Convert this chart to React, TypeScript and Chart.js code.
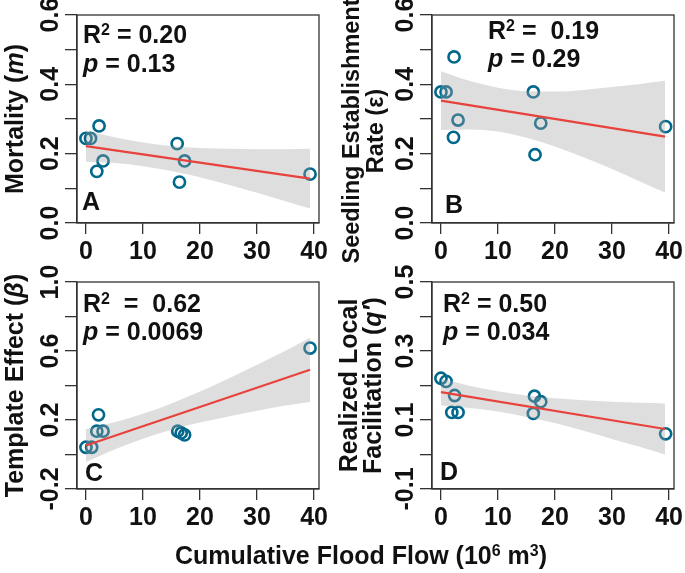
import React, { useEffect, useRef } from 'react';
import { Chart, registerables } from 'chart.js';

Chart.register(...registerables);

const W = 685;
const H = 573;
const FAMILY = '"Liberation Sans", Arial, Helvetica, sans-serif';

// ---------------- data ----------------
const xTickValues = [0, 10, 20, 30, 40];
const xTickLabels = ['0', '10', '20', '30', '40'];
const xMin = -1.57;
const xMax = 40.87;
const fitFlow = [0, 39.3];
const bandFlow = [0, 5, 10, 15, 20, 25, 30, 35, 39.3];

// Panel A – Mortality (m)
const flowA = [0, 0.8, 2.3, 3.0, 1.9, 16.0, 17.3, 16.4, 39.3];
const mortality = [0.244, 0.244, 0.28, 0.179, 0.149, 0.229, 0.179, 0.118, 0.141];
const fitA = [0.222, 0.128];
const lowerA = [0.177, 0.173, 0.164, 0.15, 0.132, 0.11, 0.087, 0.063, 0.042];
const upperA = [0.267, 0.247, 0.232, 0.222, 0.216, 0.214, 0.213, 0.213, 0.214];
const yTicksA = [0, 0.1, 0.2, 0.3, 0.4, 0.5, 0.6];
const yLabelsA = ['0.0', '', '0.2', '', '0.4', '', '0.6'];

// Panel B – Seedling establishment rate (ε)
const flowB = [0, 0.9, 2.3, 3.0, 2.2, 16.2, 17.5, 16.5, 39.4];
const establishment = [0.378, 0.378, 0.479, 0.297, 0.247, 0.378, 0.288, 0.197, 0.278];
const fitB = [0.353, 0.249];
const lowerB = [0.268, 0.27, 0.264, 0.246, 0.221, 0.19, 0.156, 0.119, 0.088];
const upperB = [0.438, 0.41, 0.39, 0.38, 0.379, 0.384, 0.392, 0.401, 0.41];
const yTicksB = [0, 0.1, 0.2, 0.3, 0.4, 0.5, 0.6];
const yLabelsB = ['0.0', '', '0.2', '', '0.4', '', '0.6'];

// Panel C – Template effect (β)
const flowC = [0, 1.0, 2.2, 1.9, 3.0, 16.1, 16.7, 17.3, 39.3];
const template = [0.042, 0.042, 0.23, 0.135, 0.135, 0.135, 0.125, 0.114, 0.617];
const fitC = [0.052, 0.491];
const lowerC = [-0.044, 0.029, 0.092, 0.144, 0.185, 0.221, 0.253, 0.284, 0.305];
const upperC = [0.148, 0.187, 0.236, 0.296, 0.365, 0.441, 0.521, 0.602, 0.677];
const yTicksC = [-0.2, 0, 0.2, 0.4, 0.6, 0.8, 1.0];
const yLabelsC = ['-0.2', '', '0.2', '', '0.6', '', '1.0'];

// Panel D – Realized local facilitation (q')
const flowD = [0, 0.9, 2.4, 1.9, 3.0, 16.4, 17.5, 16.2, 39.4];
const facilitation = [0.221, 0.212, 0.171, 0.122, 0.122, 0.169, 0.153, 0.119, 0.06];
const fitD = [0.181, 0.074];
const lowerD = [0.142, 0.135, 0.125, 0.109, 0.091, 0.069, 0.045, 0.022, 0.0];
const upperD = [0.22, 0.199, 0.183, 0.171, 0.163, 0.157, 0.153, 0.15, 0.148];
const yTicksD = [-0.1, 0, 0.1, 0.2, 0.3, 0.4, 0.5];
const yLabelsD = ['-0.1', '', '0.1', '', '0.3', '', '0.5'];

// ---------------- text ----------------
type Seg = { t: string; i?: boolean; s?: boolean };
const statsA: Seg[][] = [[{ t: 'R' }, { t: '2', s: true }, { t: ' = 0.20' }], [{ t: 'p', i: true }, { t: ' = 0.13' }]];
const statsB: Seg[][] = [[{ t: 'R' }, { t: '2', s: true }, { t: ' =  0.19' }], [{ t: 'p', i: true }, { t: ' = 0.29' }]];
const statsC: Seg[][] = [[{ t: 'R' }, { t: '2', s: true }, { t: '  =  0.62' }], [{ t: 'p', i: true }, { t: ' = 0.0069' }]];
const statsD: Seg[][] = [[{ t: 'R' }, { t: '2', s: true }, { t: ' = 0.50' }], [{ t: 'p', i: true }, { t: ' = 0.034' }]];
const titleA: Seg[][] = [[{ t: 'Mortality (' }, { t: 'm', i: true }, { t: ')' }]];
const titleB: Seg[][] = [[{ t: 'Seedling Establishment' }], [{ t: 'Rate (ε)' }]];
const titleC: Seg[][] = [[{ t: 'Template Effect (' }, { t: 'β', i: true }, { t: ')' }]];
const titleD: Seg[][] = [[{ t: 'Realized Local' }], [{ t: 'Facilitation (' }, { t: 'q', i: true }, { t: '′', i: true }, { t: ')' }]];
const xTitle: Seg[] = [{ t: 'Cumulative Flood Flow (10' }, { t: '6', s: true }, { t: ' m' }, { t: '3', s: true }, { t: ')' }];

// ---------------- layout / style ----------------
const FS = 25;
const INK = '#111';
const AXIS = '#333';
const POINT = '#00688B';
const LINE = '#e8423d';
const BAND = 'rgba(160,160,160,0.35)';
const YTL = 12;
const XTL = 11;
const XH = 50;

type Panel = {
  id: string;
  box: { left: number; top: number; right: number; bottom: number };
  xs: number[]; ys: number[]; fit: number[]; lower: number[]; upper: number[];
  yTicks: number[]; yLabels: string[];
  stats: Seg[][]; statsX: number; statsY: number[];
  title: Seg[][]; titleX: number[]; titleSize: number; titleShift: number;
  letter: string; letterPos: [number, number];
  showXTitle?: boolean;
};

const panels: Panel[] = [
  {
    id: 'A', box: { left: 77, top: 15, right: 319, bottom: 223 },
    xs: flowA, ys: mortality, fit: fitA, lower: lowerA, upper: upperA,
    yTicks: yTicksA, yLabels: yLabelsA,
    stats: statsA, statsX: 83, statsY: [43, 72],
    title: titleA, titleX: [23], titleSize: FS, titleShift: 0,
    letter: 'A', letterPos: [82, 210],
  },
  {
    id: 'B', box: { left: 432, top: 15, right: 674, bottom: 223 },
    xs: flowB, ys: establishment, fit: fitB, lower: lowerB, upper: upperB,
    yTicks: yTicksB, yLabels: yLabelsB,
    stats: statsB, statsX: 488, statsY: [38.5, 67],
    title: titleB, titleX: [359, 383], titleSize: 23.5, titleShift: 12,
    letter: 'B', letterPos: [445, 213],
  },
  {
    id: 'C', box: { left: 77, top: 282, right: 319, bottom: 489 },
    xs: flowC, ys: template, fit: fitC, lower: lowerC, upper: upperC,
    yTicks: yTicksC, yLabels: yLabelsC,
    stats: statsC, statsX: 83, statsY: [311.5, 340],
    title: titleC, titleX: [23], titleSize: FS, titleShift: 0,
    letter: 'C', letterPos: [85, 481],
  },
  {
    id: 'D', box: { left: 432, top: 282, right: 674, bottom: 489 },
    xs: flowD, ys: facilitation, fit: fitD, lower: lowerD, upper: upperD,
    yTicks: yTicksD, yLabels: yLabelsD,
    stats: statsD, statsX: 443, statsY: [311.5, 340],
    title: titleD, titleX: [357, 381], titleSize: FS, titleShift: 0,
    letter: 'D', letterPos: [440, 480],
    showXTitle: true,
  },
];

function fontOf(size: number, italic?: boolean) {
  return `${italic ? 'italic ' : ''}bold ${size}px ${FAMILY}`;
}

function drawRich(ctx: CanvasRenderingContext2D, segs: Seg[], x: number, y: number, size: number, align: 'left' | 'center') {
  const supSize = Math.round(size * 0.62);
  const widths = segs.map((s) => {
    ctx.font = fontOf(s.s ? supSize : size, s.i);
    return ctx.measureText(s.t).width;
  });
  const total = widths.reduce((a, b) => a + b, 0);
  let cx = align === 'center' ? x - total / 2 : x;
  ctx.textAlign = 'left';
  ctx.textBaseline = 'alphabetic';
  segs.forEach((s, k) => {
    ctx.font = fontOf(s.s ? supSize : size, s.i);
    ctx.fillText(s.t, cx, s.s ? y - size * 0.32 : y);
    cx += widths[k];
  });
}

function PanelChart({ p }: { p: Panel }) {
  const ref = useRef<HTMLCanvasElement | null>(null);
  useEffect(() => {
    const canvas = ref.current;
    if (!canvas) return;
    const yMin = p.yTicks[0];
    const yMax = p.yTicks[p.yTicks.length - 1];
    const decor = {
      id: 'decor' + p.id,
      afterDraw(chart: any) {
        const ctx: CanvasRenderingContext2D = chart.ctx;
        const a = chart.chartArea;
        ctx.save();
        ctx.strokeStyle = AXIS;
        ctx.lineWidth = 1.3;
        ctx.strokeRect(a.left, a.top, a.right - a.left, a.bottom - a.top);
        ctx.fillStyle = INK;
        const ys = chart.scales.y;
        p.yTicks.forEach((v, i) => {
          const lab = p.yLabels[i];
          if (!lab) return;
          const py = ys.getPixelForValue(v);
          ctx.save();
          ctx.translate(a.left - YTL - 7.5, py);
          ctx.rotate(-Math.PI / 2);
          ctx.font = fontOf(FS);
          ctx.textAlign = 'center';
          ctx.textBaseline = 'alphabetic';
          ctx.fillText(lab, 0, 0);
          ctx.restore();
        });
        const cy = (a.top + a.bottom) / 2 + p.titleShift;
        p.title.forEach((line, k) => {
          ctx.save();
          ctx.translate(p.titleX[k], cy);
          ctx.rotate(-Math.PI / 2);
          drawRich(ctx, line, 0, 0, p.titleSize, 'center');
          ctx.restore();
        });
        p.stats.forEach((line, k) => drawRich(ctx, line, p.statsX, p.statsY[k], FS, 'left'));
        drawRich(ctx, [{ t: p.letter }], p.letterPos[0], p.letterPos[1], FS, 'left');
        if (p.showXTitle) {
          drawRich(ctx, xTitle, 361, 564, FS, 'center');
        }
        ctx.restore();
      },
    };

    const chart = new Chart(canvas, {
      type: 'scatter',
      data: {
        datasets: [
          {
            type: 'scatter',
            data: p.xs.map((x, i) => ({ x, y: p.ys[i] })),
            order: 4,
            pointRadius: 5.6,
            pointBorderWidth: 2.6,
            borderColor: POINT,
            pointBorderColor: POINT,
            backgroundColor: 'rgba(0,0,0,0)',
            pointBackgroundColor: 'rgba(0,0,0,0)',
          } as any,
          {
            type: 'line',
            data: bandFlow.map((x, i) => ({ x, y: p.lower[i] })),
            order: 3,
            borderColor: 'rgba(0,0,0,0)',
            borderWidth: 1,
            pointRadius: 0,
            fill: false,
            cubicInterpolationMode: 'monotone',
          } as any,
          {
            type: 'line',
            data: bandFlow.map((x, i) => ({ x, y: p.upper[i] })),
            order: 2,
            borderColor: 'rgba(0,0,0,0)',
            borderWidth: 1,
            pointRadius: 0,
            fill: '-1',
            backgroundColor: BAND,
            cubicInterpolationMode: 'monotone',
          } as any,
          {
            type: 'line',
            data: fitFlow.map((x, i) => ({ x, y: p.fit[i] })),
            order: 1,
            borderColor: LINE,
            borderWidth: 2.2,
            pointRadius: 0,
            fill: false,
          } as any,
        ],
      },
      options: {
        responsive: false,
        maintainAspectRatio: false,
        animation: false,
        devicePixelRatio: 1,
        events: [],
        layout: {
          padding: {
            left: p.box.left - YTL,
            top: p.box.top,
            right: W - p.box.right,
            bottom: H - p.box.bottom - XH,
          },
        },
        plugins: {
          legend: { display: false },
          tooltip: { enabled: false },
          title: { display: false },
        },
        scales: {
          x: {
            type: 'linear',
            min: xMin,
            max: xMax,
            bounds: 'data',
            afterBuildTicks: (s: any) => {
              s.ticks = xTickValues.map((v) => ({ value: v }));
            },
            afterFit: (s: any) => {
              s.height = XH;
              s.paddingLeft = 0;
              s.paddingRight = 0;
            },
            ticks: {
              callback: (_v: any, i: number) => xTickLabels[i],
              font: { size: FS, weight: 'bold', family: FAMILY },
              color: INK,
              padding: 3,
              maxRotation: 0,
              minRotation: 0,
              autoSkip: false,
            },
            grid: { drawOnChartArea: false, drawTicks: true, tickLength: XTL, color: AXIS, lineWidth: 1.3 },
            border: { display: true, color: AXIS, width: 1.3 },
          },
          y: {
            type: 'linear',
            min: yMin,
            max: yMax,
            bounds: 'data',
            afterBuildTicks: (s: any) => {
              s.ticks = p.yTicks.map((v) => ({ value: v }));
            },
            afterFit: (s: any) => {
              s.width = YTL;
              s.paddingTop = 0;
              s.paddingBottom = 0;
            },
            ticks: { display: false },
            grid: { drawOnChartArea: false, drawTicks: true, tickLength: YTL, color: AXIS, lineWidth: 1.3 },
            border: { display: true, color: AXIS, width: 1.3 },
          },
        },
      } as any,
      plugins: [decor],
    });
    return () => chart.destroy();
  }, [p]);
  return (
    <canvas
      ref={ref}
      width={W}
      height={H}
      style={{ position: 'absolute', left: 0, top: 0, width: W, height: H }}
    />
  );
}

export default function App() {
  return (
    <div style={{ position: 'absolute', left: 0, top: 0, width: W, height: H, background: '#fff', overflow: 'hidden' }}>
      {panels.map((p) => (
        <PanelChart key={p.id} p={p} />
      ))}
    </div>
  );
}
